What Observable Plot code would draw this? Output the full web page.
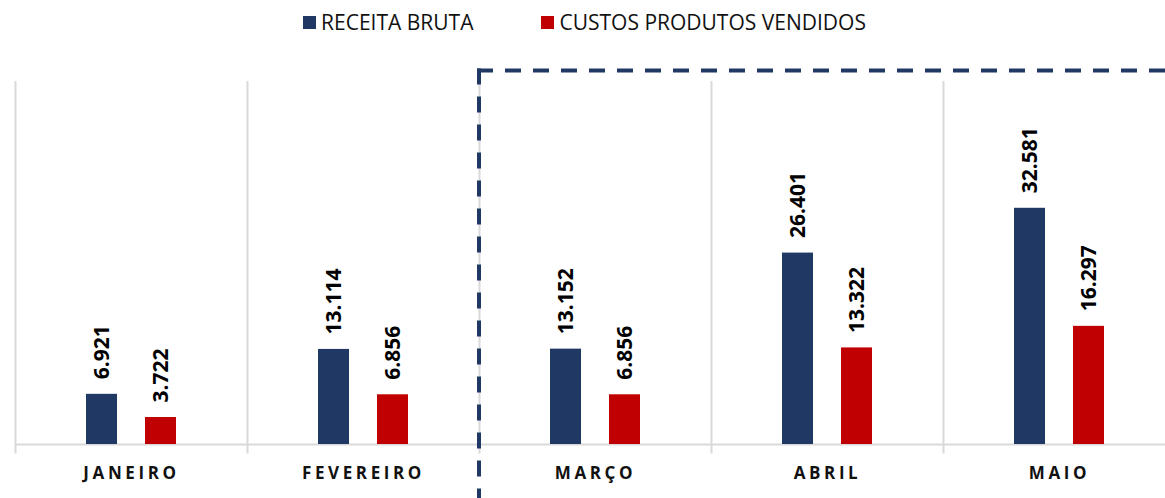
<!DOCTYPE html>
<html>
<head>
<meta charset="utf-8">
<script src="https://cdn.jsdelivr.net/npm/d3@7"></script>
<script src="https://cdn.jsdelivr.net/npm/@observablehq/plot@0.6"></script>
<style>
  html, body { margin: 0; padding: 0; background: #fff; }
  body { width: 1165px; height: 498px; overflow: hidden; font-family: "Open Sans", sans-serif; }
  #legend { height: 44px; display: flex; justify-content: center; align-items: center; gap: 68px; font-size: 21px; color: #111; padding-left: 4px; box-sizing: border-box; }
  #legend .item { display: flex; align-items: center; gap: 5px; }
  #legend .sw { width: 13px; height: 13px; display: inline-block; }
  #chart { width: 1165px; overflow: hidden; }
  #chart svg { max-width: none !important; }
  #chart svg [aria-label="fx-axis tick label"] text { letter-spacing: 3.6px; }
</style>
</head>
<body>
<div id="legend"></div>
<div id="chart"></div>
<script>
// ---- data ----
const months = ["JANEIRO", "FEVEREIRO", "MARÇO", "ABRIL", "MAIO"];
const receitaBruta = [6921, 13114, 13152, 26401, 32581];
const custosProdutos = [3722, 6856, 6856, 13322, 16297];
const seriesNames = ["RECEITA BRUTA", "CUSTOS PRODUTOS VENDIDOS"];
const seriesColors = ["#203864", "#c00000"];
const highlightStart = "MARÇO";

const rows = months.flatMap((m, i) => [
  {month: m, serie: seriesNames[0], value: receitaBruta[i]},
  {month: m, serie: seriesNames[1], value: custosProdutos[i]}
]);

const ptBR = d3.formatLocale({decimal: ",", thousands: ".", grouping: [3], currency: ["R$", ""]});
const fmt = ptBR.format(",d");

// legend
const legendEl = document.getElementById("legend");
seriesNames.forEach((s, i) => {
  const it = document.createElement("div");
  it.className = "item";
  it.innerHTML = `<span class="sw" style="background:${seriesColors[i]}"></span><span>${s}</span>`;
  legendEl.appendChild(it);
});

const H = 454, mTop = 37.5, mBottom = 54;

const chart = Plot.plot({
  width: 1175,
  height: H,
  marginLeft: 14,
  marginRight: 0,
  marginTop: mTop,
  marginBottom: mBottom,
  style: {fontFamily: "Open Sans, sans-serif", background: "#fff"},
  fx: {domain: months, padding: 0, label: null},
  x: {domain: seriesNames, paddingInner: 0.467, paddingOuter: 1.167, axis: null},
  y: {domain: [0, 50000], axis: null},
  color: {domain: seriesNames, range: seriesColors},
  marks: [
    Plot.frame({anchor: "left", stroke: "#d9d9d9", strokeWidth: 2, insetBottom: -8, strokeOpacity: 1}),
    Plot.ruleY([0], {stroke: "#d9d9d9", strokeWidth: 2}),
    Plot.barY(rows, {fx: "month", x: "serie", y: "value", fill: "serie"}),
    Plot.text(rows, {
      fx: "month", x: "serie", y: "value", text: d => fmt(d.value),
      rotate: -90, textAnchor: "start", dy: -15,
      fontSize: 21, fontWeight: "bold", fill: "#000"
    }),
    Plot.axisFx({anchor: "bottom", tickSize: 0, tickPadding: 22, fontSize: 17, fontWeight: "bold", fill: "#111", label: null})
  ]
});

// dashed highlight outline starting at the MARÇO band
const fxs = chart.scale("fx");
const hx0 = fxs.apply(highlightStart);
const hTop = mTop - 11;
const svgEl = chart.tagName.toLowerCase() === "svg" ? chart : chart.querySelector("svg");
const g = d3.select(svgEl).append("g").attr("fill", "none").attr("stroke", "#203864").attr("stroke-width", 4).attr("stroke-dasharray", "16 12");
g.append("path").attr("d", `M${hx0 - 2},${hTop}H1175`);
g.append("path").attr("d", `M${hx0},${hTop - 2}V${H}`);

document.getElementById("chart").appendChild(chart);
</script>
</body>
</html>
